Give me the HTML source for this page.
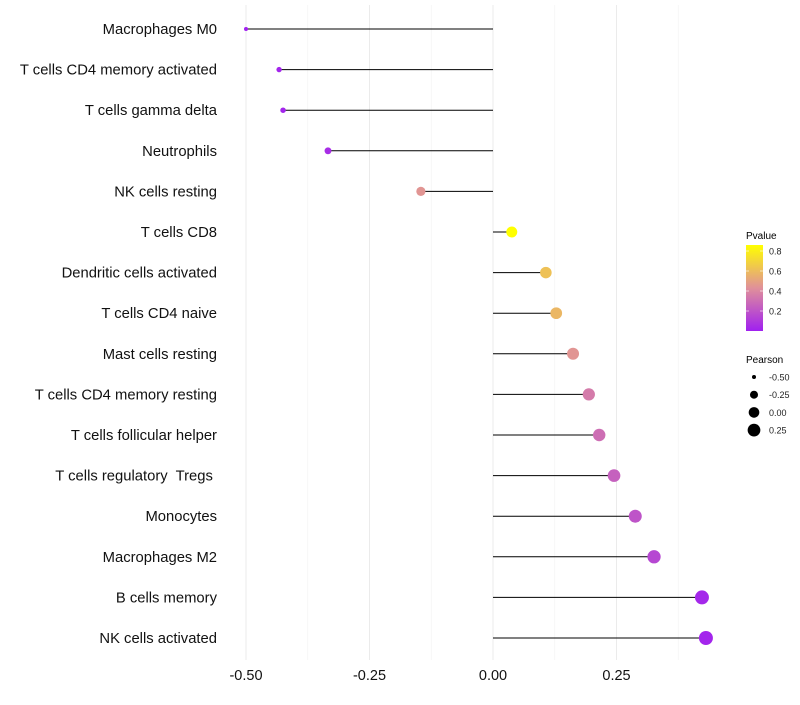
<!DOCTYPE html>
<html><head><meta charset="utf-8"><style>
body{margin:0;background:#fff;font-family:"Liberation Sans",sans-serif}
</style></head><body>
<svg id="c" width="800" height="700" xmlns="http://www.w3.org/2000/svg" font-family="Liberation Sans, sans-serif">
<defs><linearGradient id="pg" x1="0" y1="1" x2="0" y2="0">
<stop offset="0" stop-color="#a020f0"/><stop offset="0.5" stop-color="#e0909a"/><stop offset="1" stop-color="#ffff00"/></linearGradient></defs>
<g id="grid"></g>
<g id="marks"></g>
<g id="labels"></g>
<g id="xt"></g>
<g>
<text x="746" y="239" font-size="10">Pvalue</text>
<rect x="746" y="245" width="17" height="86" fill="url(#pg)"/>
<g id="pleg"></g>
</g>
<g>
<text x="746" y="363" font-size="10">Pearson</text>
<g id="sleg"></g>
</g>
</svg>
<script>
const categories=["Macrophages M0","T cells CD4 memory activated","T cells gamma delta","Neutrophils","NK cells resting","T cells CD8","Dendritic cells activated","T cells CD4 naive","Mast cells resting","T cells CD4 memory resting","T cells follicular helper","T cells regulatory  Tregs ","Monocytes","Macrophages M2","B cells memory","NK cells activated"];
const pearson=[-0.50,-0.433,-0.425,-0.334,-0.146,0.038,0.107,0.128,0.162,0.194,0.215,0.245,0.288,0.326,0.423,0.431];
const pvalue=[0.005,0.02,0.02,0.05,0.45,0.86,0.62,0.58,0.45,0.35,0.3,0.25,0.2,0.15,0.03,0.02];
const xTicks=[-0.5,-0.25,0,0.25];
const xTickLabels=["-0.50","-0.25","0.00","0.25"];
const pTicks=[0.2,0.4,0.6,0.8];
const sTicks=[-0.5,-0.25,0,0.25];
const NS="http://www.w3.org/2000/svg";
const x=v=>493+v*494;
const y=i=>29+i*40.6;
const pmin=0,pmax=0.86;
function col(p){let t=Math.max(0,Math.min(1,(p-pmin)/(pmax-pmin)));
 const a=[160,32,240],m=[224,144,154],b=[255,255,0];let c;
 if(t<0.5){const u=t/0.5;c=a.map((v,k)=>v+(m[k]-v)*u);}else{const u=(t-0.5)/0.5;c=m.map((v,k)=>v+(b[k]-v)*u);}
 return `rgb(${c.map(Math.round).join(',')})`;}
const smin=-0.5,smax=0.431;
const r=v=>Math.sqrt(4+Math.max(0,(v-smin)/(smax-smin))*45);
function el(t,a,p,txt){const e=document.createElementNS(NS,t);for(const k in a)e.setAttribute(k,a[k]);if(txt!==undefined)e.textContent=txt;document.getElementById(p).appendChild(e);return e;}
const minor=[-0.375,-0.125,0.125,0.375];
minor.forEach(v=>{const e=el('line',{x1:x(v),x2:x(v),y1:5,y2:660,stroke:'#f3f3f3','stroke-width':0.6},'grid');

});
xTicks.forEach((v,i)=>{const e=el('line',{x1:x(v),x2:x(v),y1:5,y2:660,stroke:'#ebebeb','stroke-width':1},'grid');


const t=el('text',{x:x(v),y:680,'font-size':14.5,'text-anchor':'middle',fill:'#111'},'xt',xTickLabels[i]);

});
categories.forEach((c,i)=>{
const t=el('text',{x:217,y:y(i)+5,'font-size':14.8,'text-anchor':'end',fill:'#111','xml:space':'preserve'},'labels',c);
t.setAttribute('style','white-space:pre');


const l=el('line',{x1:x(0),x2:x(pearson[i]),y1:y(i),y2:y(i),stroke:'#000','stroke-width':1},'marks');


const d=el('circle',{cx:x(pearson[i]),cy:y(i),r:r(pearson[i]),fill:col(pvalue[i])},'marks');

});
pTicks.forEach(p=>{const yy=331-(p-pmin)/(pmax-pmin)*86;
el('line',{x1:746,x2:749,y1:yy,y2:yy,stroke:'#fff','stroke-width':0.6},'pleg');
el('line',{x1:760,x2:763,y1:yy,y2:yy,stroke:'#fff','stroke-width':0.6},'pleg');
const t=el('text',{x:769,y:yy+3.5,'font-size':9,fill:'#222'},'pleg',p.toFixed(1));

});
sTicks.forEach((s,i)=>{const yy=377+i*17.7;
el('circle',{cx:754,cy:yy,r:r(s)},'sleg');
const t=el('text',{x:769,y:yy+3.5,'font-size':9,fill:'#222'},'sleg',s.toFixed(2));

});
</script>
</body></html>
